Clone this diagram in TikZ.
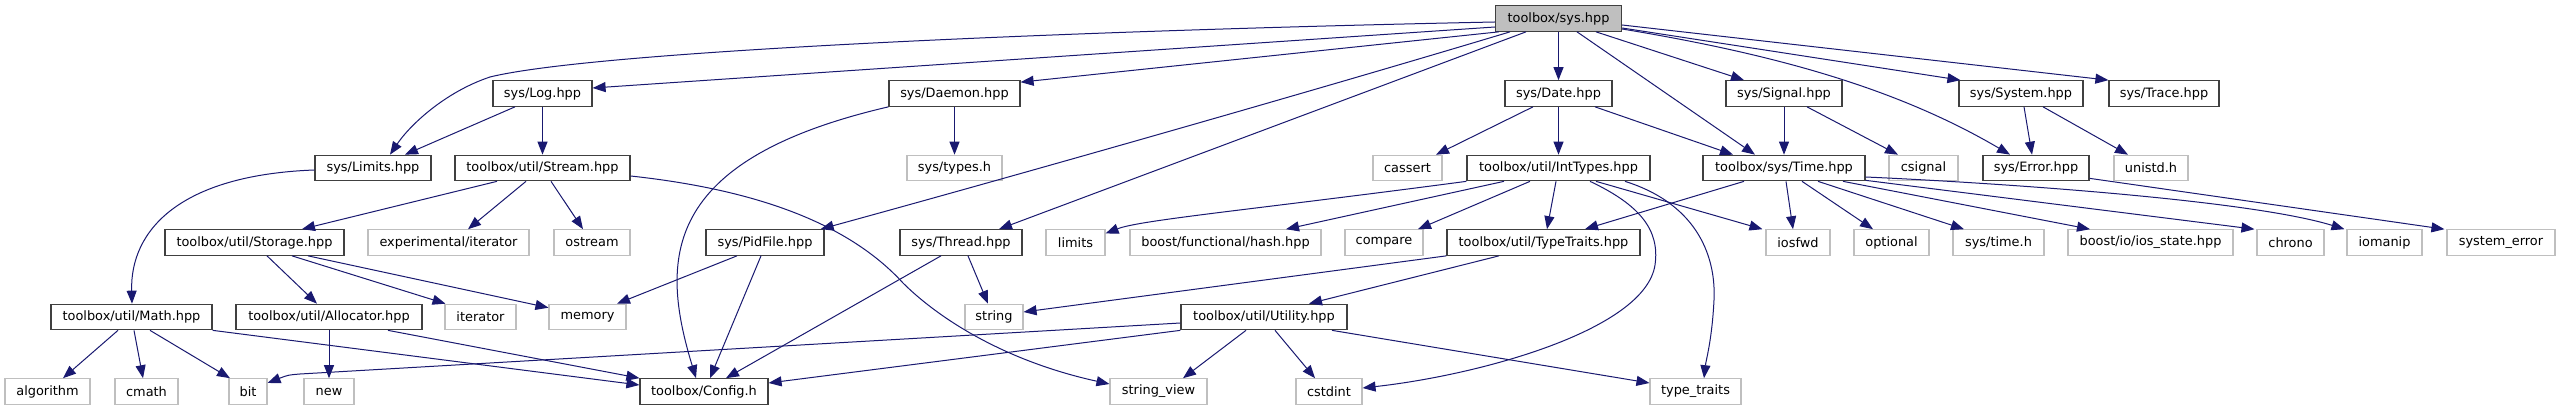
\documentclass[tikz,border=0pt]{standalone}
\usepackage{fontspec}
\setmainfont{DejaVu Sans}
\usetikzlibrary{arrows.meta}
\definecolor{edgeblue}{RGB}{25,25,112}
\definecolor{greyline}{RGB}{191,191,191}
\definecolor{rootfill}{RGB}{191,191,191}
\definecolor{boxline}{RGB}{64,64,64}
\tikzset{
  base/.style={rectangle, inner sep=0pt, minimum height=25.5pt, font=\fontsize{12.9}{15}\selectfont, text=black},
  doc/.style={base, draw=boxline, line width=1.2pt, fill=white},
  ext/.style={base, draw=greyline, line width=1.1pt, fill=white},
  rootbox/.style={base, draw=boxline, line width=1.2pt, fill=rootfill},
  edge/.style={draw=edgeblue, line width=1pt, -{Triangle[length=13pt,width=10pt]}},
}
\begin{document}
\begin{tikzpicture}[x=1pt,y=-1pt]
\fill[white] (0,0) rectangle (2561,411);
\useasboundingbox (0,0) rectangle (2561,411);
% row 0
\node[rootbox, minimum width=126pt] (root) at (1558.5,18.5) {toolbox/sys.hpp};
% row 1
\node[doc, minimum width=99pt] (Log) at (542.5,93.5) {sys/Log.hpp};
\node[doc, minimum width=131pt] (Daemon) at (954.5,93.5) {sys/Daemon.hpp};
\node[doc, minimum width=107pt] (Date) at (1558.5,93.5) {sys/Date.hpp};
\node[doc, minimum width=116pt] (Signal) at (1784,93.5) {sys/Signal.hpp};
\node[doc, minimum width=124pt] (System) at (2021,93.5) {sys/System.hpp};
\node[doc, minimum width=110pt] (Trace) at (2164,93.5) {sys/Trace.hpp};
% row 2
\node[doc, minimum width=116pt] (Limits) at (373,168) {sys/Limits.hpp};
\node[doc, minimum width=175pt] (Stream) at (542.5,168) {toolbox/util/Stream.hpp};
\node[ext, minimum width=95pt] (types) at (954.5,168) {sys/types.h};
\node[ext, minimum width=69pt] (cassert) at (1407.5,168) {cassert};
\node[doc, minimum width=183pt] (IntTypes) at (1558.5,168) {toolbox/util/IntTypes.hpp};
\node[doc, minimum width=162pt] (Time) at (1784,168) {toolbox/sys/Time.hpp};
\node[ext, minimum width=69pt] (csignal) at (1923.5,168) {csignal};
\node[doc, minimum width=106pt] (Error) at (2036,168) {sys/Error.hpp};
\node[ext, minimum width=74pt] (unistd) at (2151,168) {unistd.h};
% row 3
\node[doc, minimum width=179pt] (Storage) at (254.5,242.5) {toolbox/util/Storage.hpp};
\node[ext, minimum width=161pt] (expiter) at (448.5,242.5) {experimental/iterator};
\node[ext, minimum width=76pt] (ostream) at (592,242.5) {ostream};
\node[doc, minimum width=118pt] (PidFile) at (765,242.5) {sys/PidFile.hpp};
\node[doc, minimum width=122pt] (Thread) at (961,242.5) {sys/Thread.hpp};
\node[ext, minimum width=59pt] (limits) at (1075.5,242.5) {limits};
\node[ext, minimum width=191pt] (hash) at (1225.5,242.5) {boost/functional/hash.hpp};
\node[ext, minimum width=78pt] (compare) at (1384,242.5) {compare};
\node[doc, minimum width=193pt] (TypeTraits) at (1543.5,242.5) {toolbox/util/TypeTraits.hpp};
\node[ext, minimum width=64pt] (iosfwd) at (1798,242.5) {iosfwd};
\node[ext, minimum width=75pt] (optional) at (1891.5,242.5) {optional};
\node[ext, minimum width=91pt] (systime) at (1998.5,242.5) {sys/time.h};
\node[ext, minimum width=165pt] (iosstate) at (2150.5,242.5) {boost/io/ios\_state.hpp};
\node[ext, minimum width=67pt] (chrono) at (2290.5,242.5) {chrono};
\node[ext, minimum width=75pt] (iomanip) at (2384.5,242.5) {iomanip};
\node[ext, minimum width=108pt] (syserr) at (2501,242.5) {system\_error};
% row 4
\node[doc, minimum width=161pt] (Math) at (131.5,317) {toolbox/util/Math.hpp};
\node[doc, minimum width=186pt] (Allocator) at (329,317) {toolbox/util/Allocator.hpp};
\node[ext, minimum width=71pt] (iterator) at (480.5,317) {iterator};
\node[ext, minimum width=77pt] (memory) at (587.5,317) {memory};
\node[ext, minimum width=58pt] (string) at (994,317) {string};
\node[doc, minimum width=166pt] (Utility) at (1264,317) {toolbox/util/Utility.hpp};
% row 5
\node[ext, minimum width=85pt] (algorithm) at (47.5,391.5) {algorithm};
\node[ext, minimum width=63pt] (cmath) at (146.5,391.5) {cmath};
\node[ext, minimum width=38pt] (bit) at (248,391.5) {bit};
\node[ext, minimum width=50pt] (new) at (329,391.5) {new};
\node[doc, minimum width=128pt] (Config) at (704,391.5) {toolbox/Config.h};
\node[ext, minimum width=97pt] (stringview) at (1158.5,391.5) {string\_view};
\node[ext, minimum width=66pt] (cstdint) at (1329,391.5) {cstdint};
\node[ext, minimum width=91pt] (typetraits) at (1695.5,391.5) {type\_traits};

% edges from root
\draw[edge] ([yshift=-3.5]root.west) .. controls (1100,30) and (600,50) .. (490,77) .. controls (445,92) and (410,125) .. ([xshift=17]Limits.north);
\draw[edge] ([yshift=-8.5]root.west) -- ([yshift=5.5]Log.east);
\draw[edge] ([xshift=4]root.south west) -- ([yshift=-2]Daemon.north east);
\draw[edge] ([xshift=-48.5]root.south) .. controls (1300,95) and (1000,180) .. ([xshift=-4]PidFile.north east);
\draw[edge] ([xshift=-32.5]root.south) -- ([xshift=38]Thread.north);
\draw[edge] (root.south) -- (Date.north);
\draw[edge] ([xshift=18.5]root.south) -- ([xshift=-29]Time.north);
\draw[edge] ([xshift=37.5]root.south) -- ([xshift=-40]Signal.north);
\draw[edge] ([yshift=-10.5]root.east) .. controls (1780,55) and (1900,90) .. ([xshift=-26]Error.north);
\draw[edge] ([yshift=-9.5]root.east) -- ([xshift=2]System.north west);
\draw[edge] ([yshift=-6.5]root.east) -- (Trace.north west);
% Log
\draw[edge] ([xshift=-27.5]Log.south) -- ([xshift=32]Limits.north);
\draw[edge] (Log.south) -- (Stream.north);
% Daemon
\draw[edge] (Daemon.south west) .. controls (660,160) and (660,260) .. ([xshift=-8]Config.north);
\draw[edge] (Daemon.south) -- (types.north);
% Limits
\draw[edge] ([yshift=-2]Limits.west) .. controls (180,175) and (130,230) .. ([xshift=0.5]Math.north);
% Stream
\draw[edge] ([xshift=-45.5]Stream.south) -- ([xshift=47.5]Storage.north);
\draw[edge] ([xshift=-16.5]Stream.south) -- ([xshift=19.5]expiter.north);
\draw[edge] ([xshift=8.5]Stream.south) -- ([xshift=-9]ostream.north);
\draw[edge] ([yshift=-8]Stream.east) .. controls (760,190) and (850,225) .. (903,283) .. controls (935,315) and (1000,360) .. ([yshift=7.5]stringview.west);
% Storage
\draw[edge] ([xshift=12.5]Storage.south) -- ([xshift=-12]Allocator.north);
\draw[edge] ([xshift=37.5]Storage.south) -- ([xshift=-35]iterator.north);
\draw[edge] ([xshift=53.5]Storage.south) -- ([yshift=-4]memory.north west);
% PidFile
\draw[edge] ([xshift=-28]PidFile.south) -- ([xshift=29.5]memory.north);
\draw[edge] ([xshift=-4]PidFile.south) -- ([xshift=6]Config.north);
% Thread
\draw[edge] ([xshift=-20]Thread.south) -- ([xshift=22]Config.north);
\draw[edge] ([xshift=7]Thread.south) -- ([xshift=-6]string.north);
% Math
\draw[edge] ([xshift=-13.5]Math.south) -- ([xshift=15.5]algorithm.north);
\draw[edge] ([xshift=2.5]Math.south) -- ([xshift=-3.5]cmath.north);
\draw[edge] ([xshift=18.5]Math.south) -- ([xshift=-18]bit.north);
\draw[edge] (Math.south east) -- ([yshift=6.5]Config.west);
% Allocator
\draw[edge] (Allocator.south) -- (new.north);
\draw[edge] ([xshift=59]Allocator.south) -- (Config.north west);
% Utility
\draw[edge] ([yshift=-6]Utility.west) -- (300,374) .. controls (288,375) .. ([yshift=8.5]bit.east);
\draw[edge] (Utility.south west) -- ([yshift=8.5]Config.east);
\draw[edge] ([xshift=-18]Utility.south) -- ([xshift=24.5]stringview.north);
\draw[edge] ([xshift=11]Utility.south) -- ([xshift=-14]cstdint.north);
\draw[edge] ([xshift=68]Utility.south) -- ([yshift=8.5]typetraits.west);
% Date
\draw[edge] ([xshift=-25.5]Date.south) -- ([xshift=28.5]cassert.north);
\draw[edge] (Date.south) -- (IntTypes.north);
\draw[edge] ([xshift=36.5]Date.south) -- ([xshift=-51]Time.north);
% IntTypes
\draw[edge] (IntTypes.south west) .. controls (1250,210) and (1140,220) .. ([yshift=9]limits.east);
\draw[edge] ([xshift=-54.5]IntTypes.south) -- ([xshift=60.5]hash.north);
\draw[edge] ([xshift=-28.5]IntTypes.south) -- ([xshift=34]compare.north);
\draw[edge] ([xshift=-2.5]IntTypes.south) -- ([xshift=3.5]TypeTraits.north);
\draw[edge] ([xshift=37.5]IntTypes.south) -- ([xshift=-3]iosfwd.north west);
\draw[edge] ([xshift=31.5]IntTypes.south) .. controls (1640,205) and (1660,230) .. (1655,265) .. controls (1645,330) and (1480,375) .. ([yshift=3.5]cstdint.east);
\draw[edge] ([xshift=66.5]IntTypes.south) .. controls (1700,205) and (1716,260) .. (1714,300) .. controls (1712,340) and (1706,360) .. ([xshift=8.5]typetraits.north);
% TypeTraits
\draw[edge] (TypeTraits.south west) -- ([yshift=5]string.east);
\draw[edge] ([xshift=-44.5]TypeTraits.south) -- ([xshift=45]Utility.north);
% Time
\draw[edge] ([xshift=-40]Time.south) -- ([xshift=41.5]TypeTraits.north);
\draw[edge] ([xshift=2]Time.south) -- ([xshift=-5]iosfwd.north);
\draw[edge] ([xshift=18]Time.south) -- ([xshift=-18.5]optional.north);
\draw[edge] ([xshift=34]Time.south) -- ([xshift=-34.5]systime.north);
\draw[edge] ([xshift=59]Time.south) -- ([xshift=-60.5]iosstate.north);
\draw[edge] ([yshift=1]Time.south east) -- ([xshift=-2]chrono.north west);
\draw[edge] ([yshift=-9]Time.east) .. controls (2000,183) and (2250,200) .. ([xshift=-2]iomanip.north west);
% Signal
\draw[edge] (Signal.south) -- (Time.north);
\draw[edge] ([xshift=23]Signal.south) -- ([xshift=-25.5]csignal.north);
% System
\draw[edge] ([xshift=3]System.south) -- ([xshift=-4]Error.north);
\draw[edge] ([xshift=22]System.south) -- ([xshift=-23]unistd.north);
% Error
\draw[edge] ([yshift=3]Error.south east) -- ([xshift=-2]syserr.north west);
\end{tikzpicture}
\end{document}
